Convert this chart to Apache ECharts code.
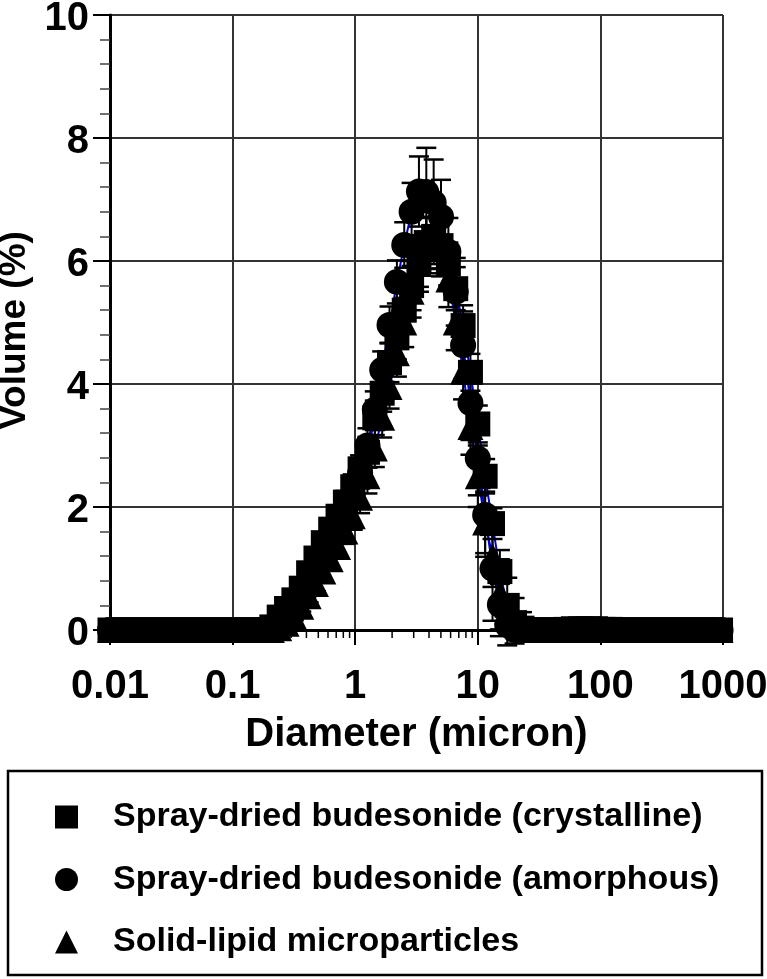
<!DOCTYPE html>
<html>
<head>
<meta charset="utf-8">
<script src="https://cdn.jsdelivr.net/npm/echarts@6/dist/echarts.min.js"></script>
<style>
html,body{margin:0;padding:0;background:#fff;}
#chart{width:767px;height:979px;}
</style>
</head>
<body>
<div id="chart"></div>
<script>
// Size classes (micron), log-spaced bins
const diameters = [0.0100,0.01148,0.01318,0.01514,0.01738,0.01995,0.02291,0.02630,0.03020,0.03467,
0.03981,0.04571,0.05248,0.06026,0.06918,0.07943,0.09120,0.1047,0.1202,0.1380,
0.1585,0.1820,0.2089,0.2399,0.2754,0.3162,0.3631,0.4169,0.4786,0.5495,
0.6310,0.7244,0.8318,0.9550,1.096,1.259,1.445,1.660,1.905,2.188,
2.512,2.884,3.311,3.802,4.365,5.012,5.754,6.607,7.586,8.710,
10.00,11.48,13.18,15.14,17.38,19.95,22.91,26.30,30.20,34.67,
39.81,45.71,52.48,60.26,69.18,79.43,91.20,104.7,120.2,138.0,
158.5,182.0,208.9,239.9,275.4,316.2,363.1,416.9,478.6,549.5,
631.0,724.4,831.8,955.0];

// Spray-dried budesonide (crystalline) - squares
const crystallineVol = [0,0,0,0,0,0,0,0,0,0, 0,0,0,0,0,0,0,0,0,0,
0,0,0.05,0.21,0.35,0.49,0.68,0.93,1.17,1.42,
1.64,1.85,2.08,2.33,2.62,2.89,3.45,3.85,4.35,4.75,
5.20,5.60,6.00,6.30,6.40,6.25,5.95,5.55,4.95,4.19,
3.35,2.50,1.73,0.95,0.40,0.12,0.03,0,0,0,
0,0,0.01,0.02,0.02,0.02,0.02,0.01,0.01,0,
0,0,0,0,0,0,0,0,0,0, 0,0,0,0];
const crystallineErr = [0,0,0,0,0,0,0,0,0,0, 0,0,0,0,0,0,0,0,0,0,
0,0,0.02,0.04,0.05,0.06,0.08,0.10,0.12,0.14,
0.15,0.17,0.18,0.20,0.22,0.25,0.28,0.30,0.32,0.35,
0.38,0.40,0.42,0.42,0.40,0.38,0.35,0.35,0.33,0.30,
0.30,0.28,0.25,0.20,0.12,0.05,0.02,0,0,0,
0,0,0.05,0.06,0.07,0.07,0.06,0.05,0.04,0,
0,0,0,0,0,0,0,0,0,0, 0,0,0,0];

// Spray-dried budesonide (amorphous) - circles
const amorphousVol = [0,0,0,0,0,0,0,0,0,0, 0,0,0,0,0,0,0,0,0,0,
0,0,0.02,0.10,0.20,0.35,0.50,0.70,0.95,1.20,
1.45,1.70,1.95,2.20,2.55,3.00,3.58,4.23,4.96,5.66,
6.26,6.80,7.13,7.12,6.95,6.72,6.15,5.50,4.63,3.69,
2.79,1.87,1.00,0.41,0.08,0,0,0,0,0,
0,0,0,0,0,0,0,0,0,0, 0,0,0,0,0,0,0,0,0,0, 0,0,0,0];
const amorphousErr = [0,0,0,0,0,0,0,0,0,0, 0,0,0,0,0,0,0,0,0,0,
0,0,0.02,0.03,0.05,0.06,0.08,0.10,0.12,0.14,
0.16,0.18,0.20,0.22,0.25,0.28,0.30,0.30,0.30,0.35,
0.37,0.47,0.57,0.72,0.70,0.60,0.55,0.55,0.55,0.60,
0.60,0.68,0.85,0.40,0.10,0,0,0,0,0,
0,0,0,0,0,0,0,0,0,0, 0,0,0,0,0,0,0,0,0,0, 0,0,0,0];

// Solid-lipid microparticles - triangles
const slmVol = [0,0,0,0,0,0,0,0,0,0, 0,0,0,0,0,0,0,0,0,0,
0,0,0,0.03,0.10,0.22,0.38,0.55,0.75,0.95,
1.15,1.35,1.60,1.85,2.15,2.50,2.95,3.45,3.95,4.50,
5.00,5.50,5.95,6.25,6.40,6.20,5.70,5.00,4.20,3.30,
2.50,1.75,1.20,0.60,0.30,0.15,0.06,0.02,0,0,
0,0,0,0,0,0,0,0,0,0, 0,0,0,0,0,0,0,0,0,0, 0,0,0,0];
const slmErr = [0,0,0,0,0,0,0,0,0,0, 0,0,0,0,0,0,0,0,0,0,
0,0,0,0.02,0.04,0.06,0.08,0.10,0.12,0.14,
0.16,0.18,0.20,0.22,0.25,0.28,0.30,0.32,0.35,0.38,
0.40,0.42,0.45,0.45,0.45,0.45,0.45,0.45,0.45,0.45,
0.50,0.50,0.50,0.70,0.55,0.37,0.23,0.08,0,0,
0,0,0,0,0,0,0,0,0,0, 0,0,0,0,0,0,0,0,0,0, 0,0,0,0];

const seriesNames = ['Spray-dried budesonide (crystalline)','Spray-dried budesonide (amorphous)','Solid-lipid microparticles'];
const xTickLabels = ['0.01','0.1','1','10','100','1000'];
const minorTickMultipliers = [2,3,4,5,6,7,8,9];
const decades = [0.01,0.1,1,10,100];

const FONT = "'Liberation Sans', Arial, Helvetica, sans-serif";

function pairs(vals){ return diameters.map((d,i)=>[d, vals[i]]); }
function errData(vals, errs){
  const out = [];
  diameters.forEach((d,i)=>{ if (errs[i] > 0) out.push([d, vals[i]-errs[i], vals[i]+errs[i]]); });
  return out;
}
function errSeries(vals, errs){
  return {
    type:'custom', z:3, silent:true, clip:false,
    data: errData(vals, errs),
    encode:{x:0, y:[1,2]},
    renderItem: function(params, api){
      const lo = api.coord([api.value(0), api.value(1)]);
      const hi = api.coord([api.value(0), api.value(2)]);
      const hw = 10;
      return {type:'group', children:[
        {type:'line', shape:{x1:lo[0], y1:lo[1], x2:hi[0], y2:hi[1]}, style:{stroke:'#000', lineWidth:2}},
        {type:'line', shape:{x1:hi[0]-hw, y1:hi[1], x2:hi[0]+hw, y2:hi[1]}, style:{stroke:'#000', lineWidth:2.5}},
        {type:'line', shape:{x1:lo[0]-hw, y1:lo[1], x2:lo[0]+hw, y2:lo[1]}, style:{stroke:'#000', lineWidth:2.5}}
      ]};
    }
  };
}
function lineSeries(vals, id){
  return {type:'line', name:id, data:pairs(vals), showSymbol:false, z:2, silent:true,
    lineStyle:{color:'#0000cc', width:2}, itemStyle:{color:'#0000cc'}};
}
function markSeries(vals, name, symbol, size){
  return {type:'scatter', name:name, data:pairs(vals), symbol:symbol, symbolSize:size, z:4, silent:true,
    itemStyle:{color:'#000', opacity:1}};
}

const minorTicks = [];
decades.forEach(d=>minorTickMultipliers.forEach(m=>minorTicks.push([d*m, 0])));

const chart = echarts.init(document.getElementById('chart'), null, {renderer:'canvas'});
chart.setOption({
  animation:false,
  backgroundColor:'#fff',
  grid:{left:110, right:44, top:15, bottom:349, containLabel:false, outerBoundsMode:'none'},
  xAxis:{
    type:'log', logBase:10, min:0.01, max:1000, splitNumber:5,
    name:'Diameter (micron)', nameLocation:'middle', nameGap:85,
    nameTextStyle:{fontSize:40, fontWeight:'bold', color:'#000', fontFamily:FONT},
    axisLine:{show:true, onZero:false, lineStyle:{color:'#000', width:3}},
    axisTick:{show:true, length:15, lineStyle:{color:'#000', width:2}},
    splitLine:{show:true, lineStyle:{color:'#333', width:2}},
    axisLabel:{fontSize:40, fontWeight:'bold', color:'#000', margin:37, fontFamily:FONT, hideOverlap:false,
      formatter:function(v){ const k = Math.round(Math.log10(v)) + 2; return xTickLabels[k] !== undefined ? xTickLabels[k] : ''; }}
  },
  yAxis:{
    type:'value', min:0, max:10, interval:2,
    name:'Volume (%)', nameLocation:'middle', nameGap:64, nameRotate:90,
    nameTextStyle:{fontSize:37, fontWeight:'bold', color:'#000', fontFamily:FONT, padding:[0,16,0,0]},
    axisLine:{show:true, lineStyle:{color:'#000', width:3}},
    axisTick:{show:true, length:17, lineStyle:{color:'#000', width:2}},
    minorTick:{show:true, splitNumber:5, length:10, lineStyle:{color:'#444', width:1.5}},
    splitLine:{show:true, lineStyle:{color:'#333', width:2}},
    axisLabel:{color:'#000', margin:21, hideOverlap:false,
      formatter:function(v){ return '{t|' + v + '}'; },
      rich:{t:{fontSize:40, fontWeight:'bold', color:'#000', fontFamily:FONT, padding:[7,0,0,0]}}}
  },
  legend:{
    show:true, orient:'vertical', left:55, top:799, padding:0, itemGap:26.5,
    itemWidth:23, itemHeight:23, selectedMode:false,
    textStyle:{fontSize:34, fontWeight:'bold', color:'#000', fontFamily:FONT, lineHeight:36, padding:[0,0,0,30]},
    data:[
      {name:seriesNames[0], icon:'rect'},
      {name:seriesNames[1], icon:'circle'},
      {name:seriesNames[2], icon:'triangle'}
    ]
  },
  graphic:[{type:'rect', shape:{x:8, y:771, width:754, height:204}, style:{fill:'none', stroke:'#000', lineWidth:2.5}, silent:true}],
  series:[
    {type:'custom', z:1, silent:true, clip:false, data:minorTicks, encode:{x:0,y:1},
      renderItem:function(params, api){
        const p = api.coord([api.value(0), api.value(1)]);
        return {type:'line', shape:{x1:p[0], y1:p[1], x2:p[0], y2:p[1]+8}, style:{stroke:'#000', lineWidth:1.5}};
      }},
    lineSeries(crystallineVol,'line-crystalline'),
    lineSeries(amorphousVol,'line-amorphous'),
    lineSeries(slmVol,'line-slm'),
    errSeries(slmVol, slmErr),
    errSeries(crystallineVol, crystallineErr),
    errSeries(amorphousVol, amorphousErr),
    markSeries(slmVol, seriesNames[2], 'triangle', 26),
    markSeries(crystallineVol, seriesNames[0], 'rect', 25),
    markSeries(amorphousVol, seriesNames[1], 'circle', 26)
  ]
});
</script>
</body>
</html>
